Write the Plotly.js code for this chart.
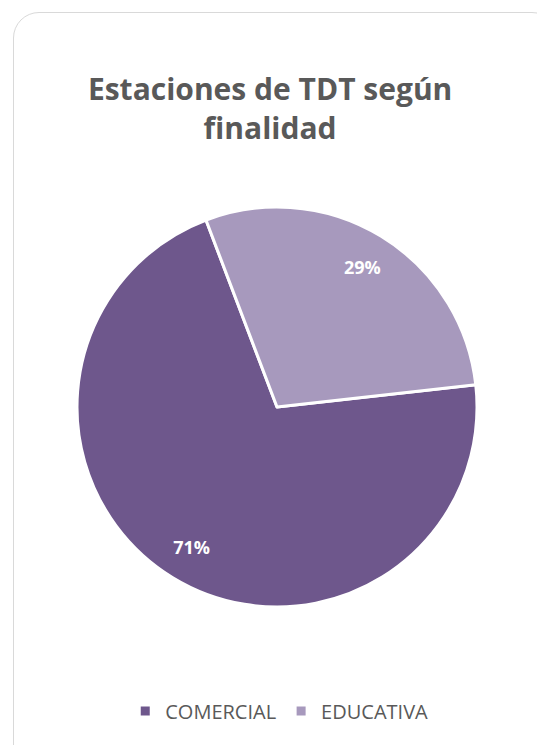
<!DOCTYPE html>
<html>
<head>
<meta charset="utf-8">
<script src="https://cdn.plot.ly/plotly-3.0.1.min.js"></script>
<style>
  html, body { margin: 0; padding: 0; width: 537px; height: 745px; overflow: hidden; background: #fff; }
  #frame { position: absolute; left: 13px; top: 12px; width: 545px; height: 760px;
           border: 1.5px solid #D9D9D9; border-radius: 26px; box-sizing: border-box; }
  #chart { position: absolute; left: 0; top: 0; width: 537px; height: 745px; }
</style>
</head>
<body>
<div id="frame"></div>
<div id="chart"></div>
<script>
const categories = ["COMERCIAL", "EDUCATIVA"];
const values = [71, 29];
const colors = ["#6E578C", "#A799BD"];
const titleText = "Estaciones de TDT según<br>finalidad";

const W = 537, H = 745;
const cx = 277, cy = 407, R = 200;
const domain = {
  x: [(cx - R) / W, (cx + R) / W],
  y: [1 - (cy + R) / H, 1 - (cy - R) / H]
};
const rotation = 83.6;

const pie = {
  type: "pie",
  labels: categories,
  values: values,
  sort: false,
  direction: "clockwise",
  rotation: rotation,
  domain: domain,
  marker: { colors: colors, line: { color: "#FFFFFF", width: 3 } },
  textinfo: "none",
  hoverinfo: "label+percent"
};

const labelRing = {
  type: "pie",
  labels: categories,
  values: values,
  sort: false,
  direction: "clockwise",
  rotation: rotation,
  domain: domain,
  hole: 0.64,
  showlegend: false,
  hoverinfo: "skip",
  marker: { colors: ["rgba(0,0,0,0)", "rgba(0,0,0,0)"], line: { width: 0 } },
  textinfo: "percent",
  texttemplate: "%{percent:.0%}",
  textposition: "inside",
  insidetextorientation: "horizontal",
  insidetextfont: { family: "Open Sans, sans-serif", size: 18, color: "#FFFFFF", weight: "bold" }
};

const layout = {
  width: W, height: H,
  margin: { l: 0, r: 0, t: 0, b: 0 },
  paper_bgcolor: "rgba(0,0,0,0)",
  plot_bgcolor: "rgba(0,0,0,0)",
  title: {
    text: titleText,
    font: { family: "Open Sans, sans-serif", size: 30, color: "#595959", weight: "bold" },
    x: 0.503, xanchor: "center",
    y: 1 - 100 / H, yanchor: "middle"
  },
  showlegend: true,
  legend: {
    orientation: "h",
    x: 0.52, xanchor: "center",
    y: 1 - 711 / H, yanchor: "middle",
    font: { family: "Open Sans, sans-serif", size: 20, color: "#595959" },
    itemwidth: 30,
    traceorder: "normal"
  }
};

Plotly.newPlot("chart", [pie, labelRing], layout, { displayModeBar: false, staticPlot: true });
</script>
</body>
</html>
